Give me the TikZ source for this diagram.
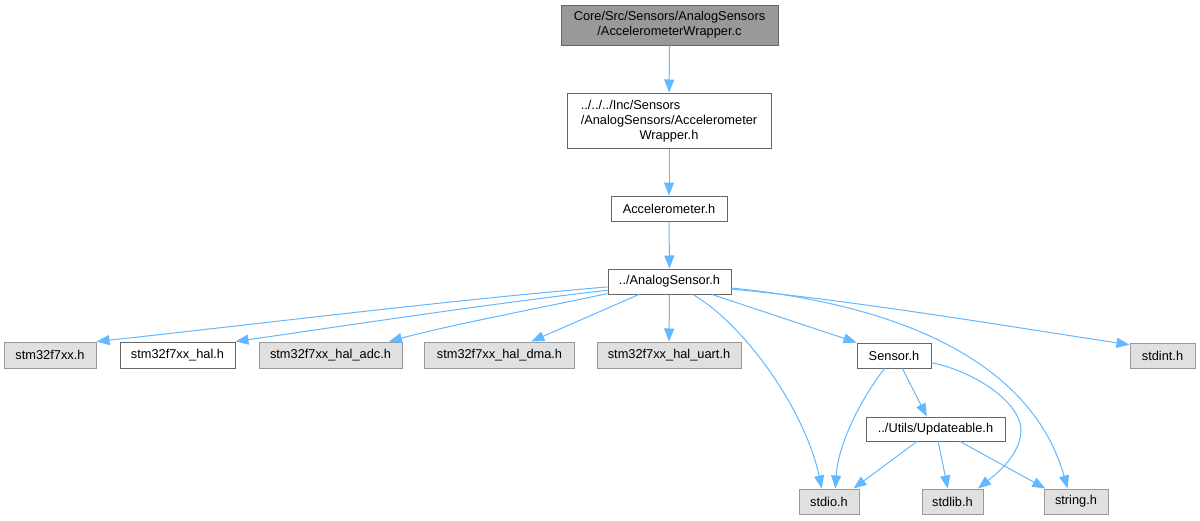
\documentclass[tikz,border=0pt]{standalone}
\usepackage{fontspec}
\setmainfont{Liberation Sans}
\usetikzlibrary{arrows.meta}
\definecolor{edgec}{HTML}{63B8FF}
\definecolor{gfill}{HTML}{E0E0E0}
\definecolor{gline}{HTML}{999999}
\definecolor{wline}{HTML}{666666}
\definecolor{tfill}{HTML}{999999}
\begin{document}
\begin{tikzpicture}[x=1pt,y=-1pt,
  basebox/.style={rectangle,inner sep=0pt,line width=1pt,font=\fontsize{12.8}{15}\selectfont,align=center},
  wbox/.style={basebox,draw=wline,fill=white},
  gbox/.style={basebox,draw=gline,fill=gfill},
  topbox/.style={basebox,draw=wline,fill=tfill},
  dep/.style={draw=edgec,line width=1pt,-{Triangle[length=13pt,width=10pt]}}]
\useasboundingbox (0,0) rectangle (1200,520);
\fill[white] (0,0) rectangle (1200,520);
% nodes
\node[topbox,minimum width=217,minimum height=40] (top) at (669.5,25) {Core/Src/Sensors/AnalogSensors\\/AccelerometerWrapper.c};
\node[wbox,minimum width=204,minimum height=55] (aw) at (669,120.5) {\begin{tabular}{@{}l@{}}../../../Inc/Sensors\\/AnalogSensors/Accelerometer\end{tabular}\\Wrapper.h};
\node[wbox,minimum width=116,minimum height=25] (acc) at (669,208.5) {Accelerometer.h};
\node[wbox,minimum width=123,minimum height=25] (as) at (669.5,281.5) {../AnalogSensor.h};
\node[gbox,minimum width=92,minimum height=26] (stm) at (50,355) {stm32f7xx.h};
\node[wbox,minimum width=115,minimum height=26] (hal) at (177.5,355) {stm32f7xx\_hal.h};
\node[gbox,minimum width=143,minimum height=26] (adc) at (330.5,355) {stm32f7xx\_hal\_adc.h};
\node[gbox,minimum width=150,minimum height=26] (dma) at (499.5,355) {stm32f7xx\_hal\_dma.h};
\node[gbox,minimum width=144,minimum height=26] (uart) at (669,355) {stm32f7xx\_hal\_uart.h};
\node[wbox,minimum width=74,minimum height=25] (sensor) at (894,355.5) {Sensor.h};
\node[gbox,minimum width=65,minimum height=25] (stdint) at (1162.5,355.5) {stdint.h};
\node[wbox,minimum width=139,minimum height=24] (upd) at (935.5,429) {../Utils/Updateable.h};
\node[gbox,minimum width=60,minimum height=25] (stdio) at (829,501.5) {stdio.h};
\node[gbox,minimum width=61,minimum height=25] (stdlib) at (952.5,501.5) {stdlib.h};
\node[gbox,minimum width=64,minimum height=25] (string) at (1076,501.5) {string.h};
% edges
\draw[dep] (top) -- (aw);
\draw[dep] (aw) -- (acc);
\draw[dep] (acc) -- (as);
\draw[dep] (as.185) .. controls (450,300) and (250,325) .. (stm.north east);
\draw[dep] (as.188) .. controls (480,305) and (330,328) .. (hal.north east);
\draw[dep] (as.191) .. controls (540,308) and (450,325) .. (adc.13);
\draw[dep] (as.203) -- (dma.23);
\draw[dep] (as.south) -- (uart.north);
\draw[dep] (as.-29) .. controls (745,325) and (805,410) .. (stdio.119);
\draw[dep] (as.-17) -- (sensor.north west);
\draw[dep] (as.-6) .. controls (950,310) and (1040,390) .. (string.123);
\draw[dep] (as.-7) .. controls (850,300) and (1000,325) .. (stdint.162);
\draw[dep] (sensor.234) .. controls (860,400) and (838,445) .. (stdio.64);
\draw[dep] (sensor.-57) -- (upd.125);
\draw[dep] (sensor.-11) .. controls (970,370) and (1020,400) .. (1021,430) .. controls (1021,455) and (995,475) .. (stdlib.27);
\draw[dep] (upd.214) -- (stdio.28);
\draw[dep] (upd.-78) -- (stdlib.110);
\draw[dep] (upd.-27) -- (string.157);
\end{tikzpicture}
\end{document}
